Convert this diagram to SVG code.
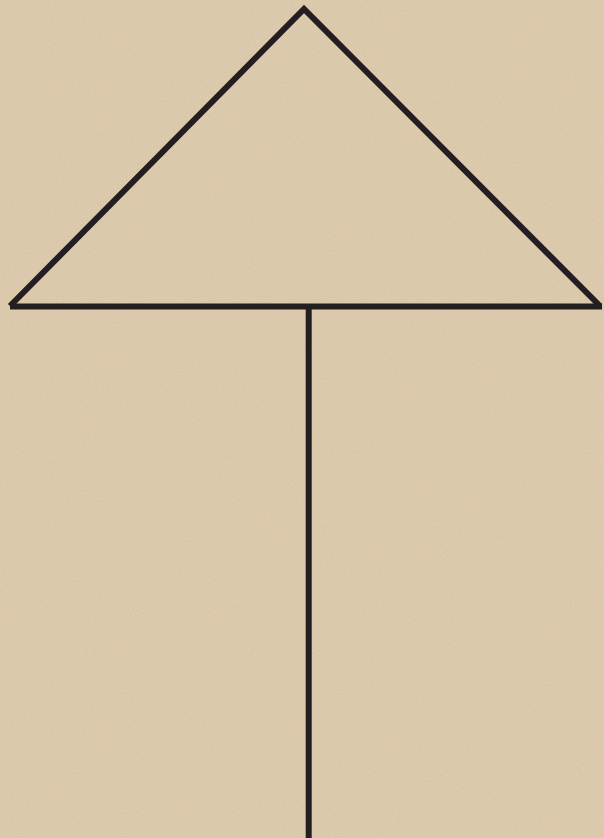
<svg xmlns="http://www.w3.org/2000/svg" width="604" height="838" viewBox="0 0 604 838">
<defs>
<filter id="paper" x="0" y="0" width="100%" height="100%">
<feTurbulence type="fractalNoise" baseFrequency="0.6" numOctaves="3" seed="3" result="n"/>
<feColorMatrix type="matrix" values="0 0 0 0 0.86  0 0 0 0 0.79  0 0 0 0 0.68  0 0 0 -0.9 0.5" in="n" result="c"/>
<feComposite in="c" in2="SourceGraphic" operator="over"/>
</filter>
<style>.ln{stroke:#231f20;stroke-width:6;fill:none}</style>
</defs>
<rect width="604" height="838" fill="#dbc8ab"/>
<rect width="604" height="838" fill="#dbc8ab" filter="url(#paper)" opacity="0.5"/>
<g id="connectors">
<polyline id="roof" class="ln" points="10,306 304,9 600,306"/>
<line id="base" class="ln" x1="10" y1="306.5" x2="602" y2="306.5" stroke-width="7"/>
<line id="stem" class="ln" x1="308.7" y1="306" x2="308.7" y2="838"/>
</g>
</svg>
